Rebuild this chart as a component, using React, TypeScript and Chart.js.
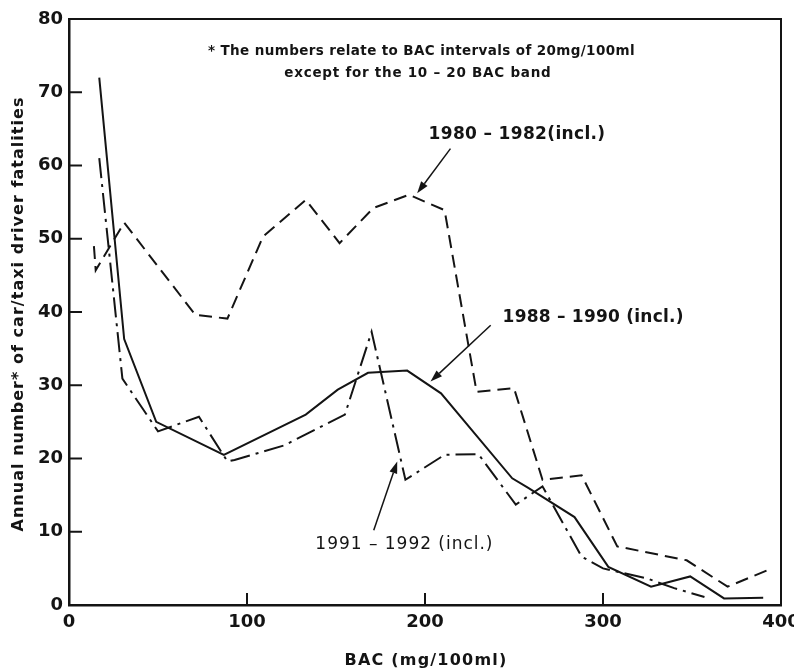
import React, { useEffect, useRef } from 'react';
import { Chart, registerables } from 'chart.js';
Chart.register(...registerables);

// 1980 - 1982 (incl.) — dashed
const bac8082 = [14, 15, 31, 71, 89, 109, 133, 152, 171, 191, 211, 229, 250, 266, 288, 308, 347, 370, 393];
const val8082 = [49, 45.7, 52.2, 39.6, 39.1, 50.3, 55.3, 49.4, 54.2, 56, 53.9, 29.1, 29.6, 17.1, 17.7, 8, 6.1, 2.5, 4.8];

// 1988 - 1990 (incl.) — solid
const bac8890 = [17, 31, 49, 87, 133, 151, 168, 190, 209, 249, 258, 284, 303, 327, 349, 368, 390];
const val8890 = [72, 36.3, 25, 20.5, 26, 29.4, 31.7, 32, 28.9, 17.3, 16, 12, 5.2, 2.5, 3.9, 0.9, 1];

// 1991 - 1992 (incl.) — dash-dot
const bac9192 = [17, 30, 50, 73, 89, 93, 121, 155, 170, 189, 211, 230, 251, 266, 288, 300, 325, 340, 357];
const val9192 = [61, 30.9, 23.7, 25.7, 19.6, 19.8, 21.8, 26, 37.3, 17.1, 20.5, 20.6, 13.7, 16.2, 6.6, 5.0, 3.6, 2.3, 1.1];

const xTicks = [0, 100, 200, 300, 400];
const yTicks = [0, 10, 20, 30, 40, 50, 60, 70, 80];

const seriesLabels = ['1980 – 1982(incl.)', '1988 – 1990 (incl.)', '1991 – 1992 (incl.)'];
const noteLines = ['* The numbers relate to BAC intervals of 20mg/100ml', 'except for the 10 – 20 BAC band'];
const xTitle = 'BAC (mg/100ml)';
const yTitle = 'Annual number* of car/taxi driver fatalities';

// annotation anchors in data units
const labelPos = [
  { x: 202, y: 64.2, bold: true, w: 177 },
  { x: 243.6, y: 39.2, bold: true, w: 181 },
  { x: 138.4, y: 8.2, bold: false, w: 178 },
];
const arrows = [
  { from: [214.3, 62.3], to: [195.6, 56.2] },
  { from: [236.9, 38.2], to: [203.1, 30.5] },
  { from: [171.2, 10.2], to: [184.4, 19.6] },
];
const notePos = [{ x: 198, y: 75.5, w: 427 }, { x: 196, y: 72.5, w: 267 }];

const FONT = '"DejaVu Sans", "Liberation Sans", Arial, sans-serif';
const INK = '#141414';

const toPts = (xs: number[], ys: number[]) => xs.map((x, i) => ({ x, y: ys[i] }));

function fitText(ctx: CanvasRenderingContext2D, text: string, x: number, y: number, target: number) {
  (ctx as any).letterSpacing = '0px';
  const w = ctx.measureText(text).width;
  const sp = (target - w) / text.length;
  (ctx as any).letterSpacing = `${sp.toFixed(2)}px`;
  ctx.fillText(text, x, y);
  (ctx as any).letterSpacing = '0px';
}

const decorPlugin = {
  id: 'decor',
  afterDraw(chart: any) {
    const ctx = chart.ctx;
    const xs = chart.scales.x;
    const ys = chart.scales.y;
    const ca = chart.chartArea;
    ctx.save();
    ctx.strokeStyle = INK;
    ctx.fillStyle = INK;
    // frame top & right
    ctx.lineWidth = 2;
    ctx.beginPath();
    ctx.moveTo(ca.left, ca.top);
    ctx.lineTo(ca.right, ca.top);
    ctx.lineTo(ca.right, ca.bottom);
    ctx.stroke();
    // inward ticks
    yTicks.slice(1, -1).forEach((v) => {
      const py = ys.getPixelForValue(v);
      ctx.beginPath();
      ctx.moveTo(ca.left, py);
      ctx.lineTo(ca.left + 13, py);
      ctx.stroke();
    });
    xTicks.slice(1, -1).forEach((v) => {
      const px = xs.getPixelForValue(v);
      ctx.beginPath();
      ctx.moveTo(px, ca.bottom);
      ctx.lineTo(px, ca.bottom - 12);
      ctx.stroke();
    });
    // axis titles
    ctx.textAlign = 'center';
    ctx.textBaseline = 'middle';
    ctx.font = `bold 16px ${FONT}`;
    fitText(ctx, xTitle, (ca.left + ca.right) / 2 + 1, 661, 163);
    ctx.save();
    ctx.translate(19, (ca.top + ca.bottom) / 2 + 2);
    ctx.rotate(-Math.PI / 2);
    fitText(ctx, yTitle, 0, 0, 435);
    ctx.restore();
    // note
    ctx.font = `bold 13.5px ${FONT}`;
    noteLines.forEach((t, i) => {
      fitText(ctx, t, xs.getPixelForValue(notePos[i].x), ys.getPixelForValue(notePos[i].y), notePos[i].w);
    });
    // series labels
    ctx.textAlign = 'left';
    seriesLabels.forEach((t, i) => {
      ctx.font = `${labelPos[i].bold ? 'bold' : 'normal'} 17px ${FONT}`;
      fitText(ctx, t, xs.getPixelForValue(labelPos[i].x), ys.getPixelForValue(labelPos[i].y), labelPos[i].w);
    });
    // arrows
    ctx.lineWidth = 1.5;
    arrows.forEach((a) => {
      const x1 = xs.getPixelForValue(a.from[0]);
      const y1 = ys.getPixelForValue(a.from[1]);
      const x2 = xs.getPixelForValue(a.to[0]);
      const y2 = ys.getPixelForValue(a.to[1]);
      const ang = Math.atan2(y2 - y1, x2 - x1);
      const L = 12, W = 4;
      const bx = x2 - L * Math.cos(ang);
      const by = y2 - L * Math.sin(ang);
      ctx.beginPath();
      ctx.moveTo(x1, y1);
      ctx.lineTo(bx, by);
      ctx.stroke();
      ctx.beginPath();
      ctx.moveTo(x2, y2);
      ctx.lineTo(bx + W * Math.sin(ang), by - W * Math.cos(ang));
      ctx.lineTo(bx - W * Math.sin(ang), by + W * Math.cos(ang));
      ctx.closePath();
      ctx.fill();
    });
    ctx.restore();
  },
};

export default function App() {
  const ref = useRef<HTMLCanvasElement | null>(null);
  useEffect(() => {
    if (!ref.current) return;
    const common = { borderColor: INK, borderWidth: 2, pointRadius: 0, tension: 0, fill: false };
    const chart = new Chart(ref.current, {
      type: 'line',
      data: {
        datasets: [
          { ...common, label: seriesLabels[0], data: toPts(bac8082, val8082), borderDash: [13, 7] },
          { ...common, label: seriesLabels[1], data: toPts(bac8890, val8890) },
          { ...common, label: seriesLabels[2], data: toPts(bac9192, val9192), borderDash: [20, 6, 3, 6] },
        ],
      },
      options: {
        animation: false,
        responsive: false,
        devicePixelRatio: 1,
        layout: { padding: { top: 19, right: 13, left: 0, bottom: 0 } },
        plugins: { legend: { display: false }, tooltip: { enabled: false } },
        scales: {
          x: {
            type: 'linear',
            min: 0,
            max: 400,
            afterBuildTicks: (s: any) => { s.ticks = xTicks.map((v) => ({ value: v })); },
            afterFit: (s: any) => { s.height = 66; s.paddingLeft = 0; s.paddingRight = 0; },
            grid: { display: true, drawOnChartArea: false, drawTicks: false },
            border: { display: true, color: INK, width: 2.5 },
            ticks: { color: INK, font: { family: FONT, size: 18, weight: 'bold' }, padding: 7, maxRotation: 0 },
          },
          y: {
            type: 'linear',
            min: 0,
            max: 80,
            afterBuildTicks: (s: any) => { s.ticks = yTicks.map((v) => ({ value: v })); },
            afterFit: (s: any) => { s.width = 69; s.paddingTop = 0; s.paddingBottom = 0; },
            grid: { display: true, drawOnChartArea: false, drawTicks: false },
            border: { display: true, color: INK, width: 2.5 },
            ticks: { color: INK, font: { family: FONT, size: 18, weight: 'bold' }, padding: 6 },
          },
        },
      },
      plugins: [decorPlugin],
    } as any);
    return () => chart.destroy();
  }, []);
  return (
    <div style={{ position: 'absolute', left: 0, top: 0, width: 794, height: 671, background: '#fff' }}>
      <canvas ref={ref} width={794} height={671} style={{ display: 'block' }} />
    </div>
  );
}
